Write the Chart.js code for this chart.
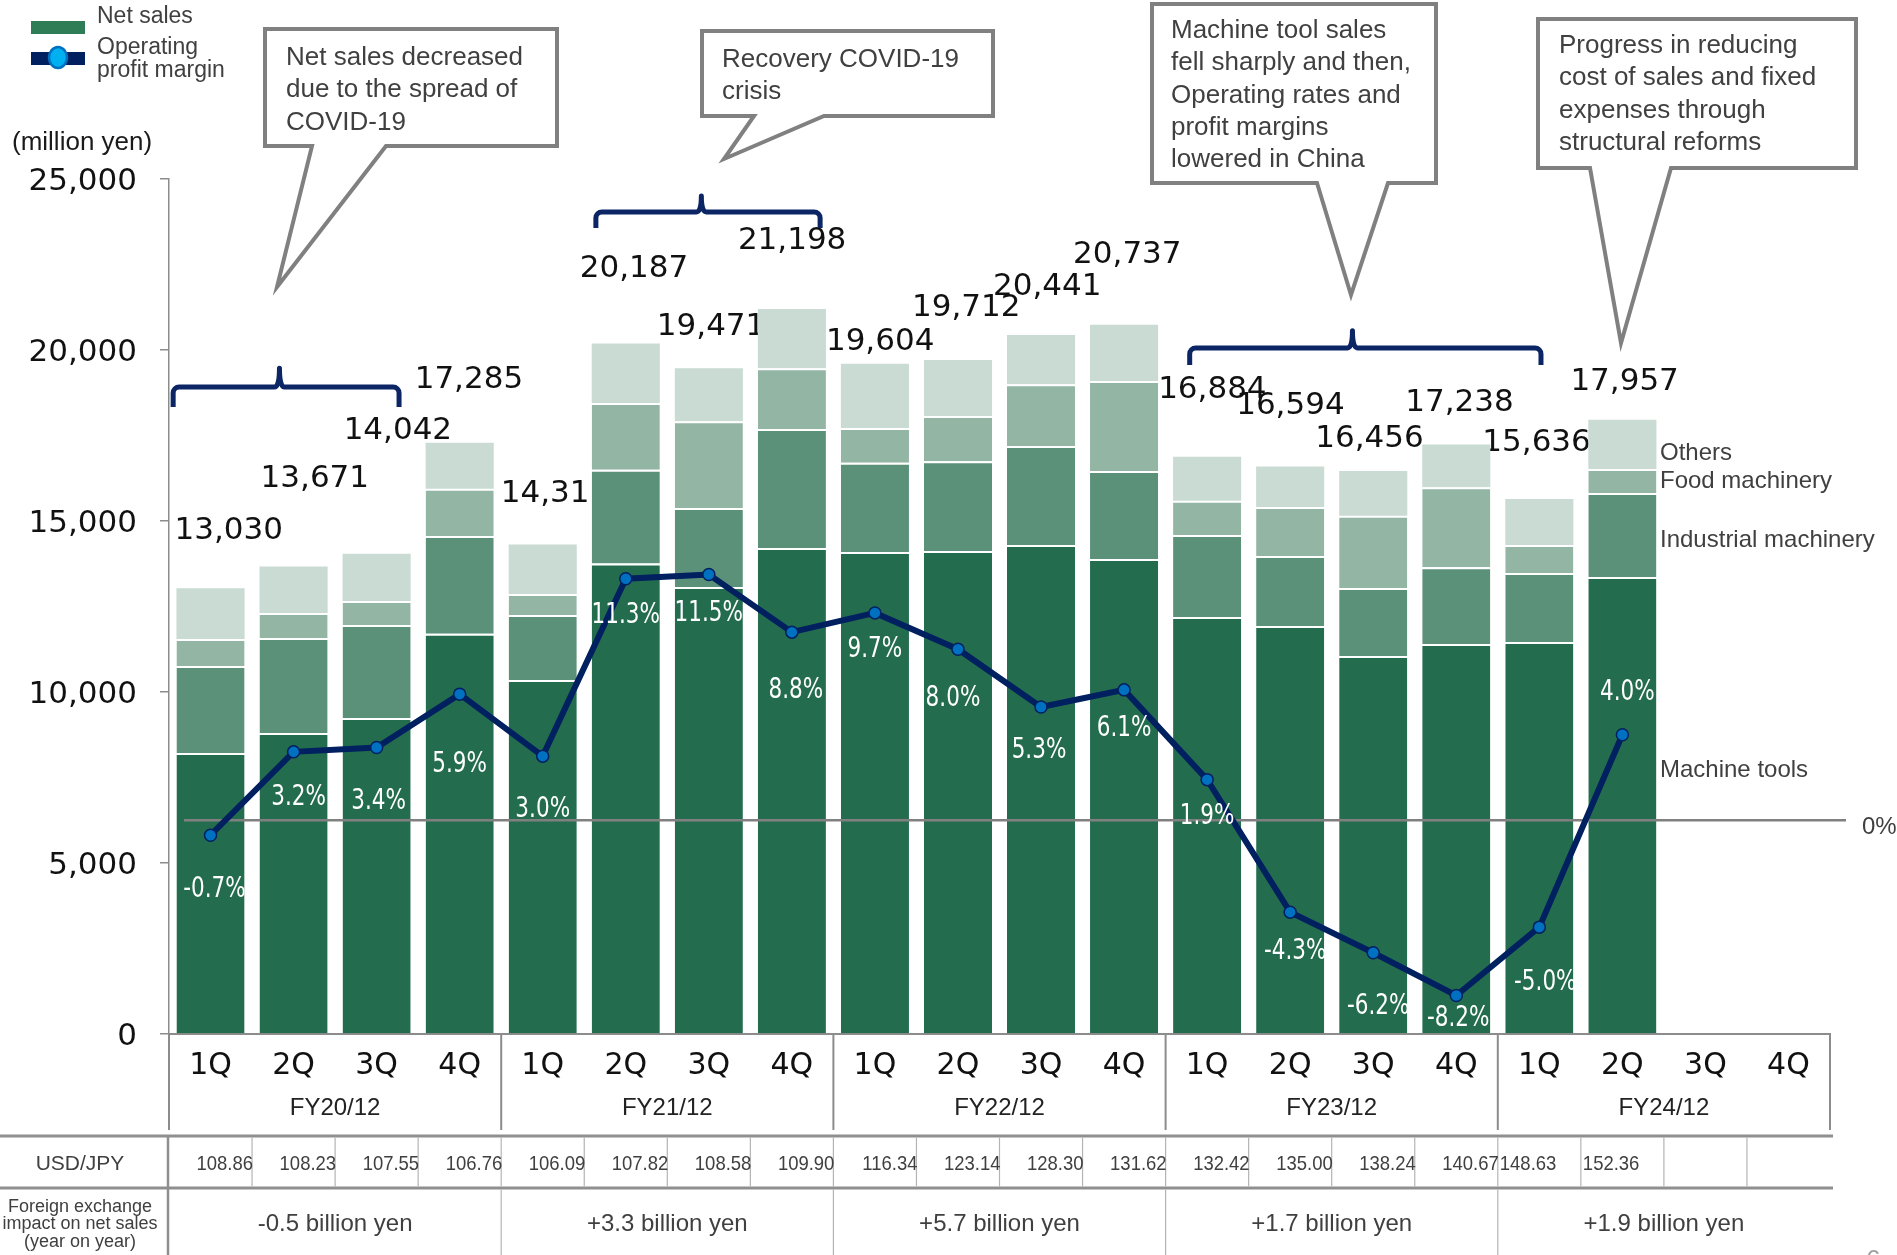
<!DOCTYPE html>
<html>
<head>
<meta charset="utf-8">
<script src="https://cdn.jsdelivr.net/npm/chart.js@4.4.1/dist/chart.umd.min.js"></script>
<style>
  html, body { margin: 0; padding: 0; background: #fff; }
  canvas { display: block; }
</style>
</head>
<body>
<canvas id="sales-chart" width="1897" height="1255"></canvas>
<script>
const quarters = ["1Q", "2Q", "3Q", "4Q", "1Q", "2Q", "3Q", "4Q", "1Q", "2Q", "3Q", "4Q", "1Q", "2Q", "3Q", "4Q", "1Q", "2Q", "3Q", "4Q"]
const fiscalYears = ["FY20/12", "FY21/12", "FY22/12", "FY23/12", "FY24/12"]

// million yen
const machineTools = [8220, 8800, 9240, 11700, 10350, 13760, 13070, 14210, 14090, 14120, 14300, 13890, 12190, 11930, 11050, 11400, 11460, 13360]
const industrialMachinery = [2540, 2780, 2720, 2860, 1900, 2740, 2310, 3480, 2610, 2630, 2890, 2570, 2400, 2050, 1990, 2250, 2020, 2460]
const foodMachinery = [790, 730, 700, 1380, 615, 1950, 2540, 1780, 1020, 1320, 1810, 2630, 1000, 1430, 2110, 2340, 820, 700]
const others = [1480, 1360, 1380, 1345, 1450, 1740, 1550, 1730, 1880, 1640, 1440, 1650, 1290, 1180, 1310, 1250, 1340, 1440]
const netSalesTotals = [13030, 13671, 14042, 17285, 14317, 20187, 19471, 21198, 19604, 19712, 20441, 20737, 16884, 16594, 16456, 17238, 15636, 17957]
const operatingMargin = [-0.7, 3.2, 3.4, 5.9, 3.0, 11.3, 11.5, 8.8, 9.7, 8.0, 5.3, 6.1, 1.9, -4.3, -6.2, -8.2, -5.0, 4.0]

const usdJpy = ["108.86", "108.23", "107.55", "106.76", "106.09", "107.82", "108.58", "109.90", "116.34", "123.14", "128.30", "131.62", "132.42", "135.00", "138.24", "140.67", "148.63", "152.36", "", ""]
const fxImpact = ["-0.5 billion yen", "+3.3 billion yen", "+5.7 billion yen", "+1.7 billion yen", "+1.9 billion yen"]

// where the slide put the total labels: [x offset from bar centre, height in million yen]
const totalLabelSpots = [[-36, 14710], [-33, 16230], [-33, 17630], [-45, 19120], [-42, 15790], [-46, 22370], [-52, 20670], [-54, 23190], [-49, 20230],
    [-46, 21230], [-48, 21840], [-51, 22780], [-49, 18830], [-54, 18360], [-58, 17400], [-51, 18450], [-57, 17280], [-52, 19060]]
// margin labels: [dx, dy] from the point
const marginLabelSpots = [[4, 55], [5, 46], [2, 54], [0, 71], [0, 54], [0, 37], [0, 39], [4, 59], [0, 37], [-5, 49], [-2, 44], [0, 39], [0, 37],
    [5, 40], [5, 54], [2, 23], [6, 56], [5, -42]]

const SANS = '"Liberation Sans", Arial, sans-serif'
const DEJA = '"DejaVu Sans", sans-serif'

function txt(ctx, s, x, y, font, color, align, baseline, squeeze) {
    ctx.save()
    ctx.font = font
    ctx.fillStyle = color
    ctx.textAlign = align || "left"
    ctx.textBaseline = baseline || "alphabetic"
    ctx.translate(x, y)
    ctx.scale(squeeze || 1, 1)
    ctx.fillText(s, 0, 0)
    ctx.restore()
}

function line(ctx, x1, y1, x2, y2, color, w) {
    ctx.save()
    ctx.strokeStyle = color
    ctx.lineWidth = w
    ctx.beginPath()
    ctx.moveTo(x1, y1)
    ctx.lineTo(x2, y2)
    ctx.stroke()
    ctx.restore()
}

function callout(ctx, bx, by, bw, bh, p1, tip, p2, lines, tx, ty) {
    ctx.save()
    ctx.beginPath()
    ctx.moveTo(bx, by)
    ctx.lineTo(bx + bw, by)
    ctx.lineTo(bx + bw, by + bh)
    ctx.lineTo(p2, by + bh)
    ctx.lineTo(tip[0], tip[1])
    ctx.lineTo(p1, by + bh)
    ctx.lineTo(bx, by + bh)
    ctx.closePath()
    ctx.fillStyle = "#fff"
    ctx.fill()
    ctx.strokeStyle = "#808080"
    ctx.lineWidth = 4
    ctx.lineJoin = "miter"
    ctx.stroke()
    ctx.restore()
    lines.forEach((l, i) => txt(ctx, l, tx, ty + i * 32.3, "26px " + SANS, "#404040"))
}

function brace(ctx, x1, x2, xm, yh, yEnd, yPeak) {
    ctx.save()
    ctx.strokeStyle = "#0b2565"
    ctx.lineWidth = 5
    ctx.lineCap = "butt"
    ctx.lineJoin = "round"
    ctx.beginPath()
    ctx.moveTo(x1, yEnd)
    ctx.arcTo(x1, yh, x1 + 10, yh, 6)
    ctx.lineTo(xm - 5, yh)
    ctx.quadraticCurveTo(xm, yh, xm, yPeak)
    ctx.quadraticCurveTo(xm, yh, xm + 5, yh)
    ctx.arcTo(x2, yh, x2, yEnd, 6)
    ctx.lineTo(x2, yEnd)
    ctx.stroke()
    ctx.restore()
}

const slideExtras = {
    id: "slideExtras",
    beforeDatasetsDraw(chart) {
        const { ctx, scales: { x, y } } = chart
        netSalesTotals.forEach((t, i) => {
            let [dx, v] = totalLabelSpots[i]
            txt(ctx, t.toLocaleString("en-US"), x.getPixelForValue(i) + dx, y.getPixelForValue(v), "31px " + DEJA, "#111", "left", "middle")
        })
    },
    beforeDatasetDraw(chart, args) {
        if (args.index !== 4) return
        const { ctx, chartArea, scales: { y2 } } = chart
        let zy = y2.getPixelForValue(0)
        line(ctx, chartArea.left + 15, zy, chartArea.right + 16, zy, "#808080", 2.5)
    },
    afterDatasetsDraw(chart) {
        const { ctx, scales: { x, y } } = chart
        let pts = chart.getDatasetMeta(4).data
        operatingMargin.forEach((m, i) => {
            let [dx, dy] = marginLabelSpots[i]
            txt(ctx, m.toFixed(1) + "%", pts[i].x + dx, pts[i].y + dy, "28px " + DEJA, "#fff", "center", "middle", 0.77)
        })
        let px = v => x.getPixelForValue(v), py = v => y.getPixelForValue(v)
        brace(ctx, px(-0.45), px(2.27), px(0.83), py(18920), py(18330), py(19470))
        brace(ctx, px(4.64), px(7.34), px(5.91), py(24035), py(23570), py(24500))
        brace(ctx, px(11.79), px(16.02), px(13.75), py(20060), py(19560), py(20560))
    },
    afterDraw(chart) {
        const { ctx, chartArea, scales: { x, y2 } } = chart
        let edge = k => x.getPixelForValue(k - 0.5)

        // axis box under the bars
        for (let k = 0; k <= 20; k += 4) line(ctx, edge(k), chartArea.bottom, edge(k), 1130, "#8c8c8c", 2)
        fiscalYears.forEach((fy, g) => {
            txt(ctx, fy, (edge(g * 4) + edge(g * 4 + 4)) / 2, 1115, "24px " + SANS, "#222", "center")
        })

        // exchange rate table
        let tRight = edge(20) + 3
        line(ctx, 0, 1136, tRight, 1136, "#8f8f8f", 3)
        line(ctx, 0, 1188, tRight, 1188, "#8f8f8f", 3)
        line(ctx, chartArea.left - 1, 1137, chartArea.left - 1, 1255, "#8f8f8f", 2.5)
        for (let k = 1; k < 20; k++) line(ctx, edge(k), 1137.5, edge(k), 1186.5, "#b4b4b4", 1.2)
        for (let k = 4; k < 20; k += 4) line(ctx, edge(k), 1189.5, edge(k), 1255, "#b4b4b4", 1.2)
        usdJpy.forEach((r, i) => {
            if (i < 16) txt(ctx, r, edge(i + 1) + 1, 1170, "21px " + SANS, "#404040", "right", "alphabetic", 0.88)
            else txt(ctx, r, edge(i) + 2, 1170, "21px " + SANS, "#404040", "left", "alphabetic", 0.88)
        })
        fxImpact.forEach((s, g) => {
            txt(ctx, s, (edge(g * 4) + edge(g * 4 + 4)) / 2, 1231, "24px " + SANS, "#404040", "center")
        })
        txt(ctx, "USD/JPY", 80, 1170, "21px " + SANS, "#404040", "center")
        txt(ctx, "Foreign exchange", 80, 1212, "18px " + SANS, "#404040", "center")
        txt(ctx, "impact on net sales", 80, 1229, "18px " + SANS, "#404040", "center")
        txt(ctx, "(year on year)", 80, 1247, "18px " + SANS, "#404040", "center")

        // legend
        ctx.fillStyle = "#2e7d56"
        ctx.fillRect(31, 21, 54, 13)
        ctx.fillStyle = "#002060"
        ctx.fillRect(31, 52, 54, 13)
        ctx.beginPath()
        ctx.ellipse(58, 57.5, 9, 10.5, 0, 0, Math.PI * 2)
        ctx.fillStyle = "#00b0f0"
        ctx.fill()
        ctx.lineWidth = 2.5
        ctx.strokeStyle = "#0070c0"
        ctx.stroke()
        txt(ctx, "Net sales", 97, 23, "23px " + SANS, "#404040")
        txt(ctx, "Operating", 97, 54, "23px " + SANS, "#404040")
        txt(ctx, "profit margin", 97, 77, "23px " + SANS, "#404040")
        txt(ctx, "(million yen)", 12, 150, "26px " + SANS, "#1a1a1a")

        // segment names at the right
        txt(ctx, "Others", 1660, 460, "24px " + SANS, "#404040")
        txt(ctx, "Food machinery", 1660, 488, "24px " + SANS, "#404040")
        txt(ctx, "Industrial machinery", 1660, 547, "24px " + SANS, "#404040")
        txt(ctx, "Machine tools", 1660, 777, "24px " + SANS, "#404040")
        txt(ctx, "0%", 1862, y2.getPixelForValue(0) + 14, "24px " + SANS, "#404040")

        // callouts
        callout(ctx, 265, 29, 292, 117, 312, [277, 287], 386,
            ["Net sales decreased", "due to the spread of", "COVID-19"], 286, 65)
        callout(ctx, 702, 31, 291, 85, 754, [724, 159], 824,
            ["Recovery COVID-19", "crisis"], 722, 67)
        callout(ctx, 1152, 4, 284, 179, 1317, [1351, 295], 1388,
            ["Machine tool sales", "fell sharply and then,", "Operating rates and", "profit margins", "lowered in China"], 1171, 38)
        callout(ctx, 1538, 19, 318, 149, 1590, [1621, 343], 1671,
            ["Progress in reducing", "cost of sales and fixed", "expenses through", "structural reforms"], 1559, 53)

        txt(ctx, "6", 1866, 1268, "26px " + SANS, "#a0a0a0")
    }
}

function renderSalesChart() {
    const ctx = document.getElementById("sales-chart")
    Chart.defaults.font.family = "DejaVu Sans"
    const sep = { top: 2, right: 0, bottom: 0, left: 0 }
    new Chart(ctx, {
        type: "bar",
        data: {
            labels: quarters,
            datasets: [
                { label: "Machine tools", data: machineTools, backgroundColor: "#246c4e", borderColor: "#fff", borderWidth: sep, order: 1 },
                { label: "Industrial machinery", data: industrialMachinery, backgroundColor: "#5c9179", borderColor: "#fff", borderWidth: sep, order: 1 },
                { label: "Food machinery", data: foodMachinery, backgroundColor: "#92b5a4", borderColor: "#fff", borderWidth: sep, order: 1 },
                { label: "Others", data: others, backgroundColor: "#c9dbd2", borderWidth: 0, order: 1 },
                {
                    type: "line", label: "Operating profit margin", data: operatingMargin, yAxisID: "y2", order: 0,
                    borderColor: "#002060", borderWidth: 6, tension: 0,
                    pointRadius: 6, pointBackgroundColor: "#0070c0", pointBorderColor: "#002060", pointBorderWidth: 1.5
                }
            ]
        },
        options: {
            responsive: false,
            animation: false,
            layout: { padding: { top: 179, right: 67, left: 0, bottom: 0 } },
            datasets: { bar: { categoryPercentage: 1, barPercentage: 0.82 } },
            scales: {
                x: {
                    stacked: true,
                    grid: { display: false, drawTicks: false },
                    border: { display: true, color: "#8c8c8c", width: 2 },
                    ticks: { font: { size: 30 }, color: "#111", padding: 14, maxRotation: 0, autoSkip: false },
                    afterFit: s => { s.height = 221 }
                },
                y: {
                    stacked: true,
                    min: 0, max: 25000,
                    grid: { drawOnChartArea: false, tickLength: 9, color: "#8c8c8c", lineWidth: 1.5 },
                    border: { display: true, color: "#8c8c8c", width: 1.5 },
                    ticks: { stepSize: 5000, font: { size: 31 }, color: "#111", padding: 23, labelOffset: 3, callback: v => v.toLocaleString("en-US") },
                    afterFit: s => { s.width = 169 }
                },
                y2: { display: false, min: -10, max: 30 }
            },
            plugins: {
                legend: { display: false },
                tooltip: { enabled: false }
            }
        },
        plugins: [slideExtras]
    })
}

renderSalesChart()
</script>
</body>
</html>
